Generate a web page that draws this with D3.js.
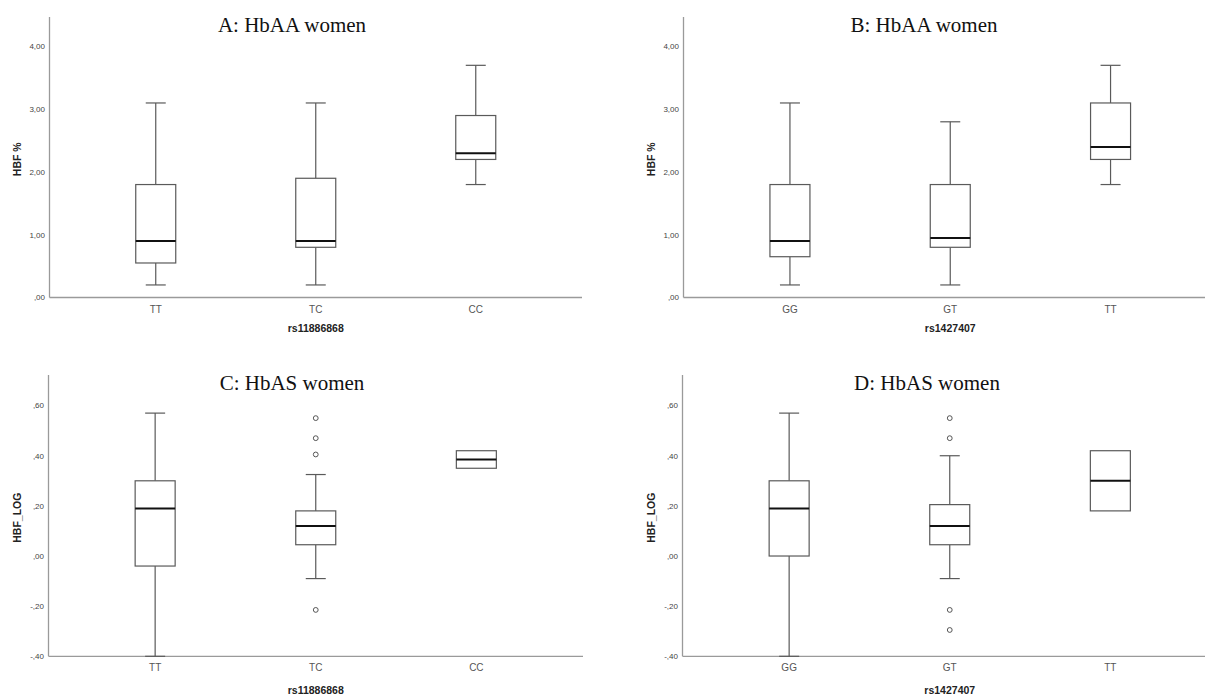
<!DOCTYPE html>
<html>
<head>
<meta charset="utf-8">
<script src="https://cdn.jsdelivr.net/npm/d3@7"></script>
<style>
  body { margin: 0; background: #fff; }
  svg { display: block; }
</style>
</head>
<body>
<svg id="chart" width="1205" height="696"></svg>
<script>
// ---------- DATA ----------
const titles = ["A: HbAA women", "B: HbAA women", "C: HbAS women", "D: HbAS women"];
const xTitles = ["rs11886868", "rs1427407", "rs11886868", "rs1427407"];
const yTitles = ["HBF %", "HBF %", "HBF_LOG", "HBF_LOG"];

const catsA = ["TT", "TC", "CC"];
const catsB = ["GG", "GT", "TT"];
const catsC = ["TT", "TC", "CC"];
const catsD = ["GG", "GT", "TT"];

// each box: [whiskerLow, Q1, median, Q3, whiskerHigh]
const boxesA = [[0.20, 0.55, 0.90, 1.80, 3.10], [0.20, 0.80, 0.90, 1.90, 3.10], [1.80, 2.20, 2.30, 2.90, 3.70]];
const boxesB = [[0.20, 0.65, 0.90, 1.80, 3.10], [0.20, 0.80, 0.95, 1.80, 2.80], [1.80, 2.20, 2.40, 3.10, 3.70]];
const boxesC = [[-0.40, -0.04, 0.19, 0.30, 0.57], [-0.09, 0.045, 0.12, 0.18, 0.325], [0.35, 0.35, 0.385, 0.42, 0.42]];
const boxesD = [[-0.40, 0.00, 0.19, 0.30, 0.57], [-0.09, 0.045, 0.12, 0.205, 0.40], [0.18, 0.18, 0.30, 0.42, 0.42]];

const outliersA = [[], [], []];
const outliersB = [[], [], []];
const outliersC = [[], [0.55, 0.47, 0.405, -0.215], []];
const outliersD = [[], [0.55, 0.47, -0.215, -0.295], []];

const ticksTop = [0, 1, 2, 3, 4];
const ticksBottom = [-0.4, -0.2, 0, 0.2, 0.4, 0.6];
const domainTop = [0, 4.47];
const domainBottom = [-0.4, 0.722];

// ---------- LAYOUT ----------
const svg = d3.select("#chart");
const commaFmt = v => {
  let s = d3.format(".2f")(Math.abs(v)).replace(".", ",");
  if (s.startsWith("0")) s = s.slice(1);
  return (v < -1e-9 ? "-" : "") + s;
};

const panels = [
  {title: titles[0], xt: xTitles[0], yt: yTitles[0], cats: catsA, boxes: boxesA, outs: outliersA, ticks: ticksTop, dom: domainTop,
   left: 49.5, right: 582, axisRight: 582, top: 17, bottom: 297.5, titleX: 292, titleY: 32, catY: 313, xtY: 332, ytX: 17},
  {title: titles[1], xt: xTitles[1], yt: yTitles[1], cats: catsB, boxes: boxesB, outs: outliersB, ticks: ticksTop, dom: domainTop,
   left: 683.5, right: 1217, axisRight: 1205, top: 17, bottom: 297.5, titleX: 924, titleY: 32, catY: 313, xtY: 332, ytX: 651},
  {title: titles[2], xt: xTitles[2], yt: yTitles[2], cats: catsC, boxes: boxesC, outs: outliersC, ticks: ticksBottom, dom: domainBottom,
   left: 48.5, right: 583, axisRight: 583, top: 375, bottom: 656.3, titleX: 292, titleY: 390, catY: 671, xtY: 694, ytX: 17},
  {title: titles[3], xt: xTitles[3], yt: yTitles[3], cats: catsD, boxes: boxesD, outs: outliersD, ticks: ticksBottom, dom: domainBottom,
   left: 682.5, right: 1217, axisRight: 1205, top: 375, bottom: 656.3, titleX: 927, titleY: 390, catY: 671, xtY: 694, ytX: 651}
];

const boxW = 40, capW = 20;
const boxStroke = "#5a5a5a", axisStroke = "#9a9a9a";

panels.forEach(p => {
  const g = svg.append("g");
  const x = d3.scalePoint().domain(p.cats).range([p.left, p.right]).padding(0.664);
  const y = d3.scaleLinear().domain(p.dom).range([p.bottom, p.top]);

  // axes lines
  g.append("line").attr("x1", p.left).attr("x2", p.left).attr("y1", p.top).attr("y2", p.bottom)
    .attr("stroke", axisStroke).attr("stroke-width", 1.3);
  g.append("line").attr("x1", p.left).attr("x2", p.axisRight).attr("y1", p.bottom).attr("y2", p.bottom)
    .attr("stroke", axisStroke).attr("stroke-width", 1.3);

  // y tick labels
  g.selectAll(".yt").data(p.ticks).enter().append("text")
    .attr("x", p.left - 4.5).attr("y", d => y(d)).attr("dy", "0.35em")
    .attr("text-anchor", "end").attr("font-family", "Liberation Sans, Arial, sans-serif")
    .attr("font-size", 8).attr("fill", "#444").text(d => commaFmt(d));

  // x tick labels
  g.selectAll(".xt").data(p.cats).enter().append("text")
    .attr("x", d => x(d)).attr("y", p.catY)
    .attr("text-anchor", "middle").attr("font-family", "Liberation Sans, Arial, sans-serif")
    .attr("font-size", 10).attr("fill", "#555").text(d => d);

  // axis titles
  g.append("text").attr("x", (p.left + p.right) / 2 + 0).attr("y", p.xtY)
    .attr("text-anchor", "middle").attr("font-family", "Liberation Sans, Arial, sans-serif")
    .attr("font-weight", "bold").attr("font-size", 10.5).attr("fill", "#222")
    .attr("transform", null)
    .text(p.xt);
  g.append("text").attr("transform", `translate(${p.ytX},${(p.top + p.bottom) / 2 + 2}) rotate(-90)`)
    .attr("dy", "0.35em").attr("text-anchor", "middle").attr("font-family", "Liberation Sans, Arial, sans-serif")
    .attr("font-weight", "bold").attr("font-size", 10.5).attr("fill", "#222").text(p.yt);

  // title
  g.append("text").attr("x", p.titleX).attr("y", p.titleY).attr("text-anchor", "middle")
    .attr("font-family", "Liberation Serif, Times New Roman, serif").attr("font-size", 21).attr("fill", "#111")
    .text(p.title);

  // boxes
  p.boxes.forEach((b, i) => {
    const cx = x(p.cats[i]);
    const [lo, q1, med, q3, hi] = b;
    const bg = g.append("g");
    if (hi > q3) {
      bg.append("line").attr("x1", cx).attr("x2", cx).attr("y1", y(q3)).attr("y2", y(hi)).attr("stroke", boxStroke).attr("stroke-width", 1.2);
      bg.append("line").attr("x1", cx - capW / 2).attr("x2", cx + capW / 2).attr("y1", y(hi)).attr("y2", y(hi)).attr("stroke", boxStroke).attr("stroke-width", 1.2);
    }
    if (lo < q1) {
      bg.append("line").attr("x1", cx).attr("x2", cx).attr("y1", y(q1)).attr("y2", y(lo)).attr("stroke", boxStroke).attr("stroke-width", 1.2);
      bg.append("line").attr("x1", cx - capW / 2).attr("x2", cx + capW / 2).attr("y1", y(lo)).attr("y2", y(lo)).attr("stroke", boxStroke).attr("stroke-width", 1.2);
    }
    bg.append("rect").attr("x", cx - boxW / 2).attr("width", boxW)
      .attr("y", y(q3)).attr("height", y(q1) - y(q3))
      .attr("fill", "#fff").attr("stroke", boxStroke).attr("stroke-width", 1.2);
    bg.append("line").attr("x1", cx - boxW / 2).attr("x2", cx + boxW / 2).attr("y1", y(med)).attr("y2", y(med))
      .attr("stroke", "#111").attr("stroke-width", 2);
    p.outs[i].forEach(o => {
      bg.append("circle").attr("cx", cx).attr("cy", y(o)).attr("r", 2.4)
        .attr("fill", "none").attr("stroke", "#555").attr("stroke-width", 1);
    });
  });
});
</script>
</body>
</html>
